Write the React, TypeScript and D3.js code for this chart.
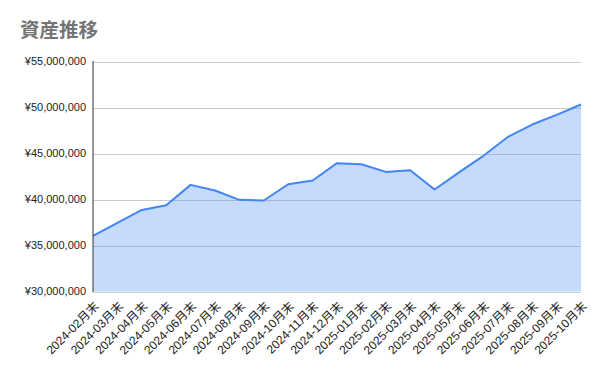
import React from "react";
import * as d3 from "d3";

const months = [
  "2024-02月末", "2024-03月末", "2024-04月末", "2024-05月末", "2024-06月末",
  "2024-07月末", "2024-08月末", "2024-09月末", "2024-10月末", "2024-11月末",
  "2024-12月末", "2025-01月末", "2025-02月末", "2025-03月末", "2025-04月末",
  "2025-05月末", "2025-06月末", "2025-07月末", "2025-08月末", "2025-09月末",
  "2025-10月末",
];

const assets = [
  36040000, 37460000, 38870000, 39380000, 41590000,
  40980000, 39960000, 39890000, 41660000, 42070000,
  43950000, 43840000, 43000000, 43180000, 41090000,
  42950000, 44750000, 46800000, 48150000, 49200000,
  50330000,
];

const yTicks = [30000000, 35000000, 40000000, 45000000, 50000000, 55000000];

const title = "資産推移";

const W = 600;
const H = 371;
const left = 93;
const right = 581;
const top = 61.5;
const bottom = 291.5;

export default function App() {
  const x = d3.scalePoint<string>().domain(months).range([left, right]);
  const y = d3.scaleLinear().domain([30000000, 55000000]).range([bottom, top]);

  const pts = months.map((m, i) => ({ m, v: assets[i] }));
  const area = d3
    .area<{ m: string; v: number }>()
    .x((d) => x(d.m)!)
    .y0(y(30000000))
    .y1((d) => y(d.v));
  const line = d3
    .line<{ m: string; v: number }>()
    .x((d) => x(d.m)!)
    .y((d) => y(d.v));

  const fmt = (v: number) => "¥" + d3.format(",")(v);
  const font = "'Liberation Sans', Arial, 'Noto Sans CJK JP', sans-serif";

  return (
    <svg
      width={W}
      height={H}
      style={{ position: "fixed", left: 0, top: 0, background: "#fff" }}
      fontFamily={font}
    >
      <rect x={0} y={0} width={W} height={H} fill="#fff" />
      <text
        x={20}
        y={37}
        fontSize={19.5}
        fontWeight="bold"
        fill="#757575"
        fontFamily="'Noto Sans CJK JP', sans-serif"
      >
        {title}
      </text>
      {yTicks.map((t) => (
        <g key={t}>
          <line
            x1={left}
            x2={right}
            y1={Math.round(y(t)) + 0.5}
            y2={Math.round(y(t)) + 0.5}
            stroke="#cccccc"
            strokeWidth={1}
          />
          <text
            x={86}
            y={y(t)}
            dy="0.35em"
            textAnchor="end"
            fontSize={11}
            fill="#222"
          >
            {fmt(t)}
          </text>
        </g>
      ))}
      <path d={area(pts)!} fill="#4285f4" fillOpacity={0.3} />
      <path
        d={line(pts)!}
        fill="none"
        stroke="#4285f4"
        strokeWidth={2}
        strokeLinejoin="round"
      />
      <line x1={left} x2={left} y1={top - 0.5} y2={bottom + 0.5} stroke="#333" strokeWidth={1} />
      {months.map((m) => {
        const px = x(m)! + 6.5;
        const py = 307;
        return (
          <text
            key={m}
            x={px}
            y={py}
            textAnchor="end"
            fontSize={12}
            fill="#222"
            transform={`rotate(-45 ${px} ${py})`}
          >
            {m}
          </text>
        );
      })}
    </svg>
  );
}
